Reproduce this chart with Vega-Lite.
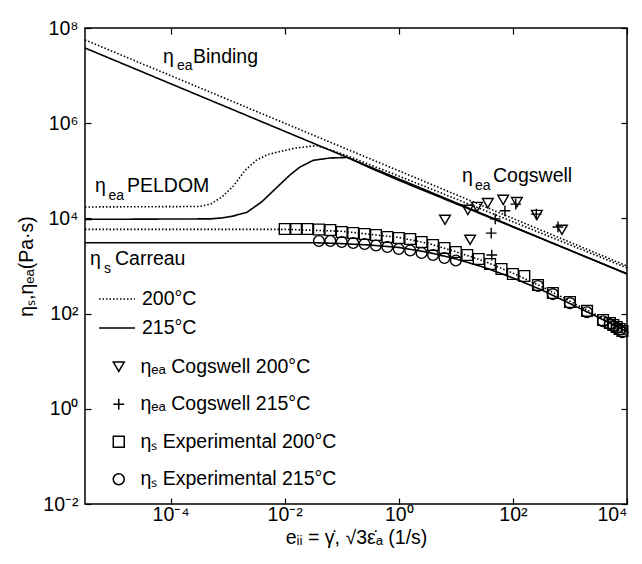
{
  "$schema": "https://vega.github.io/schema/vega-lite/v6.json",
  "width": 542,
  "height": 476,
  "autosize": "none",
  "padding": {"left": 85, "top": 28, "right": 15, "bottom": 60},
  "background": "white",
  "config": {
    "font": "Liberation Sans",
    "view": {"stroke": "black", "strokeWidth": 1.5},
    "axis": {
      "grid": false,
      "domain": false,
      "tickColor": "black",
      "tickWidth": 1.2,
      "tickSize": -6,
      "labelColor": "black",
      "labelFont": "Liberation Sans",
      "labelFontSize": 19.5,
      "titleColor": "black",
      "titleFont": "Liberation Sans",
      "titleFontSize": 19.5,
      "titleFontWeight": "normal",
      "labelExpr": "'10' + (round(log(datum.value)/LN10) < 0 ? '⁻' : '') + substring('⁰¹²³⁴⁵⁶⁷⁸⁹', abs(round(log(datum.value)/LN10)), abs(round(log(datum.value)/LN10)) + 1)"
    },
    "legend": {
      "labelFont": "Liberation Sans",
      "labelFontSize": 19.5,
      "labelColor": "black",
      "labelLimit": 400,
      "padding": 0
    }
  },
  "datasets": {
    "curves": [
      {"x": 0.0000031623, "y": 56234000, "curve": "Binding 200", "temp": "200°C"},
      {"x": 0.031623, "y": 562341, "curve": "Binding 200", "temp": "200°C"},
      {"x": 10000, "y": 1000, "curve": "Binding 200", "temp": "200°C"},
      {"x": 0.0000031623, "y": 38019000, "curve": "Binding 215", "temp": "215°C"},
      {"x": 0.031623, "y": 380189, "curve": "Binding 215", "temp": "215°C"},
      {"x": 10000, "y": 676.08, "curve": "Binding 215", "temp": "215°C"},
      {"x": 0.0000031623, "y": 17378, "curve": "PELDOM 200", "temp": "200°C"},
      {"x": 0.00031623, "y": 17783, "curve": "PELDOM 200", "temp": "200°C"},
      {"x": 0.00050119, "y": 19953, "curve": "PELDOM 200", "temp": "200°C"},
      {"x": 0.00079433, "y": 28184, "curve": "PELDOM 200", "temp": "200°C"},
      {"x": 0.0012589, "y": 47863, "curve": "PELDOM 200", "temp": "200°C"},
      {"x": 0.0019953, "y": 100000, "curve": "PELDOM 200", "temp": "200°C"},
      {"x": 0.0031623, "y": 165959, "curve": "PELDOM 200", "temp": "200°C"},
      {"x": 0.0050119, "y": 218776, "curve": "PELDOM 200", "temp": "200°C"},
      {"x": 0.0079433, "y": 251189, "curve": "PELDOM 200", "temp": "200°C"},
      {"x": 0.015849, "y": 301995, "curve": "PELDOM 200", "temp": "200°C"},
      {"x": 0.036308, "y": 338844, "curve": "PELDOM 200", "temp": "200°C"},
      {"x": 0.1, "y": 229087, "curve": "PELDOM 200", "temp": "200°C"},
      {"x": 1, "y": 77625, "curve": "PELDOM 200", "temp": "200°C"},
      {"x": 100, "y": 8511.4, "curve": "PELDOM 200", "temp": "200°C"},
      {"x": 10000, "y": 912.01, "curve": "PELDOM 200", "temp": "200°C"},
      {"x": 0.0000031623, "y": 9549.9, "curve": "PELDOM 215", "temp": "215°C"},
      {"x": 0.00050119, "y": 9772.4, "curve": "PELDOM 215", "temp": "215°C"},
      {"x": 0.00079433, "y": 10233, "curve": "PELDOM 215", "temp": "215°C"},
      {"x": 0.0012589, "y": 11220, "curve": "PELDOM 215", "temp": "215°C"},
      {"x": 0.0021878, "y": 13490, "curve": "PELDOM 215", "temp": "215°C"},
      {"x": 0.0039811, "y": 22387, "curve": "PELDOM 215", "temp": "215°C"},
      {"x": 0.0074131, "y": 45709, "curve": "PELDOM 215", "temp": "215°C"},
      {"x": 0.012589, "y": 83176, "curve": "PELDOM 215", "temp": "215°C"},
      {"x": 0.018621, "y": 120226, "curve": "PELDOM 215", "temp": "215°C"},
      {"x": 0.031623, "y": 165959, "curve": "PELDOM 215", "temp": "215°C"},
      {"x": 0.063096, "y": 186209, "curve": "PELDOM 215", "temp": "215°C"},
      {"x": 0.12589, "y": 190546, "curve": "PELDOM 215", "temp": "215°C"},
      {"x": 0.31623, "y": 114815, "curve": "PELDOM 215", "temp": "215°C"},
      {"x": 1, "y": 63096, "curve": "PELDOM 215", "temp": "215°C"},
      {"x": 10, "y": 20417, "curve": "PELDOM 215", "temp": "215°C"},
      {"x": 100, "y": 6606.9, "curve": "PELDOM 215", "temp": "215°C"},
      {"x": 1000, "y": 2138, "curve": "PELDOM 215", "temp": "215°C"},
      {"x": 10000, "y": 691.83, "curve": "PELDOM 215", "temp": "215°C"},
      {"x": 0.0000031623, "y": 5888.4, "curve": "Carreau 200", "temp": "200°C"},
      {"x": 0.01, "y": 5888.4, "curve": "Carreau 200", "temp": "200°C"},
      {"x": 0.1, "y": 5370.3, "curve": "Carreau 200", "temp": "200°C"},
      {"x": 1, "y": 3981.1, "curve": "Carreau 200", "temp": "200°C"},
      {"x": 3.1623, "y": 3020, "curve": "Carreau 200", "temp": "200°C"},
      {"x": 10, "y": 1995.3, "curve": "Carreau 200", "temp": "200°C"},
      {"x": 31.623, "y": 1258.9, "curve": "Carreau 200", "temp": "200°C"},
      {"x": 100, "y": 707.95, "curve": "Carreau 200", "temp": "200°C"},
      {"x": 316.23, "y": 371.54, "curve": "Carreau 200", "temp": "200°C"},
      {"x": 1000, "y": 181.97, "curve": "Carreau 200", "temp": "200°C"},
      {"x": 3162.3, "y": 89.125, "curve": "Carreau 200", "temp": "200°C"},
      {"x": 10000, "y": 47.863, "curve": "Carreau 200", "temp": "200°C"},
      {"x": 0.0000031623, "y": 3090.3, "curve": "Carreau 215", "temp": "215°C"},
      {"x": 0.031623, "y": 3090.3, "curve": "Carreau 215", "temp": "215°C"},
      {"x": 0.1, "y": 2951.2, "curve": "Carreau 215", "temp": "215°C"},
      {"x": 0.31623, "y": 2754.2, "curve": "Carreau 215", "temp": "215°C"},
      {"x": 1, "y": 2454.7, "curve": "Carreau 215", "temp": "215°C"},
      {"x": 3.1623, "y": 1949.8, "curve": "Carreau 215", "temp": "215°C"},
      {"x": 10, "y": 1412.5, "curve": "Carreau 215", "temp": "215°C"},
      {"x": 31.623, "y": 933.25, "curve": "Carreau 215", "temp": "215°C"},
      {"x": 100, "y": 562.34, "curve": "Carreau 215", "temp": "215°C"},
      {"x": 316.23, "y": 316.23, "curve": "Carreau 215", "temp": "215°C"},
      {"x": 1000, "y": 162.18, "curve": "Carreau 215", "temp": "215°C"},
      {"x": 3162.3, "y": 83.176, "curve": "Carreau 215", "temp": "215°C"},
      {"x": 10000, "y": 41.687, "curve": "Carreau 215", "temp": "215°C"}
    ],
    "points": [
      {"x": 0.01, "y": 5984, "series": "ηₛ Experimental 200°C"},
      {"x": 0.015849, "y": 5984, "series": "ηₛ Experimental 200°C"},
      {"x": 0.025119, "y": 5984, "series": "ηₛ Experimental 200°C"},
      {"x": 0.039811, "y": 5848, "series": "ηₛ Experimental 200°C"},
      {"x": 0.063096, "y": 5702, "series": "ηₛ Experimental 200°C"},
      {"x": 0.1, "y": 5176, "series": "ηₛ Experimental 200°C"},
      {"x": 0.15849, "y": 4932, "series": "ηₛ Experimental 200°C"},
      {"x": 0.25119, "y": 4699, "series": "ηₛ Experimental 200°C"},
      {"x": 0.39811, "y": 4477, "series": "ηₛ Experimental 200°C"},
      {"x": 0.63096, "y": 4064, "series": "ηₛ Experimental 200°C"},
      {"x": 1, "y": 3873, "series": "ηₛ Experimental 200°C"},
      {"x": 1.5849, "y": 3690, "series": "ηₛ Experimental 200°C"},
      {"x": 2.5119, "y": 3192, "series": "ηₛ Experimental 200°C"},
      {"x": 3.9811, "y": 2761, "series": "ηₛ Experimental 200°C"},
      {"x": 6.3096, "y": 2388, "series": "ηₛ Experimental 200°C"},
      {"x": 10, "y": 1968, "series": "ηₛ Experimental 200°C"},
      {"x": 15.849, "y": 1702, "series": "ηₛ Experimental 200°C"},
      {"x": 25.119, "y": 1403, "series": "ηₛ Experimental 200°C"},
      {"x": 39.811, "y": 1102, "series": "ηₛ Experimental 200°C"},
      {"x": 63.096, "y": 865, "series": "ηₛ Experimental 200°C"},
      {"x": 100, "y": 679, "series": "ηₛ Experimental 200°C"},
      {"x": 158.49, "y": 617, "series": "ηₛ Experimental 200°C"},
      {"x": 275.42, "y": 399, "series": "ηₛ Experimental 200°C"},
      {"x": 501.19, "y": 271, "series": "ηₛ Experimental 200°C"},
      {"x": 1000, "y": 175, "series": "ηₛ Experimental 200°C"},
      {"x": 1995.3, "y": 114, "series": "ηₛ Experimental 200°C"},
      {"x": 3801.9, "y": 73.5, "series": "ηₛ Experimental 200°C"},
      {"x": 5011.9, "y": 63.5, "series": "ηₛ Experimental 200°C"},
      {"x": 5754.4, "y": 57.7, "series": "ηₛ Experimental 200°C"},
      {"x": 6606.9, "y": 52.4, "series": "ηₛ Experimental 200°C"},
      {"x": 7413.1, "y": 47.5, "series": "ηₛ Experimental 200°C"},
      {"x": 8317.6, "y": 43.1, "series": "ηₛ Experimental 200°C"},
      {"x": 0.039811, "y": 3350, "series": "ηₛ Experimental 215°C"},
      {"x": 0.063096, "y": 3350, "series": "ηₛ Experimental 215°C"},
      {"x": 0.1, "y": 3192, "series": "ηₛ Experimental 215°C"},
      {"x": 0.15849, "y": 3041, "series": "ηₛ Experimental 215°C"},
      {"x": 0.25119, "y": 2897, "series": "ηₛ Experimental 215°C"},
      {"x": 0.39811, "y": 2698, "series": "ηₛ Experimental 215°C"},
      {"x": 0.63096, "y": 2506, "series": "ηₛ Experimental 215°C"},
      {"x": 1, "y": 2275, "series": "ηₛ Experimental 215°C"},
      {"x": 1.5849, "y": 2118, "series": "ηₛ Experimental 215°C"},
      {"x": 2.5119, "y": 1875, "series": "ηₛ Experimental 215°C"},
      {"x": 3.9811, "y": 1702, "series": "ηₛ Experimental 215°C"},
      {"x": 6.3096, "y": 1472, "series": "ηₛ Experimental 215°C"},
      {"x": 10, "y": 1306, "series": "ηₛ Experimental 215°C"},
      {"x": 275.42, "y": 380, "series": "ηₛ Experimental 215°C"},
      {"x": 501.19, "y": 257, "series": "ηₛ Experimental 215°C"},
      {"x": 1000, "y": 166, "series": "ηₛ Experimental 215°C"},
      {"x": 1995.3, "y": 107, "series": "ηₛ Experimental 215°C"},
      {"x": 3801.9, "y": 69.2, "series": "ηₛ Experimental 215°C"},
      {"x": 5011.9, "y": 60.3, "series": "ηₛ Experimental 215°C"},
      {"x": 5754.4, "y": 55, "series": "ηₛ Experimental 215°C"},
      {"x": 6606.9, "y": 50.1, "series": "ηₛ Experimental 215°C"},
      {"x": 7413.1, "y": 45.7, "series": "ηₛ Experimental 215°C"},
      {"x": 8317.6, "y": 40.7, "series": "ηₛ Experimental 215°C"},
      {"x": 6.457, "y": 9333, "series": "ηₑₐ Cogswell 200°C"},
      {"x": 16.22, "y": 15136, "series": "ηₑₐ Cogswell 200°C"},
      {"x": 23.44, "y": 17378, "series": "ηₑₐ Cogswell 200°C"},
      {"x": 36.31, "y": 20893, "series": "ηₑₐ Cogswell 200°C"},
      {"x": 67.61, "y": 24547, "series": "ηₑₐ Cogswell 200°C"},
      {"x": 117.5, "y": 21878, "series": "ηₑₐ Cogswell 200°C"},
      {"x": 263.0, "y": 11749, "series": "ηₑₐ Cogswell 200°C"},
      {"x": 724.4, "y": 5754, "series": "ηₑₐ Cogswell 200°C"},
      {"x": 17.78, "y": 3548, "series": "ηₑₐ Cogswell 200°C"},
      {"x": 72.44, "y": 14454, "series": "ηₑₐ Cogswell 215°C"},
      {"x": 48.98, "y": 9772, "series": "ηₑₐ Cogswell 215°C"},
      {"x": 41.69, "y": 4898, "series": "ηₑₐ Cogswell 215°C"},
      {"x": 42.66, "y": 1698, "series": "ηₑₐ Cogswell 215°C"},
      {"x": 257.0, "y": 12303, "series": "ηₑₐ Cogswell 215°C"},
      {"x": 616.6, "y": 6607, "series": "ηₑₐ Cogswell 215°C"},
      {"x": 112.2, "y": 19953, "series": "ηₑₐ Cogswell 215°C"}
    ],
    "labels": [
      {"x": 0.00007362, "y": 18410000, "text": "η", "part": "main"},
      {"x": 0.0001297, "y": 13120000, "text": "ea", "part": "sub"},
      {"x": 0.0002472, "y": 18410000, "text": "Binding", "part": "main"},
      {"x": 0.000004732, "y": 35892, "text": "η", "part": "main"},
      {"x": 0.000008166, "y": 24378, "text": "ea", "part": "sub"},
      {"x": 0.00001722, "y": 35892, "text": "PELDOM", "part": "main"},
      {"x": 0.000003873, "y": 1049.5, "text": "η", "part": "main"},
      {"x": 0.000006808, "y": 712.9, "text": "s", "part": "sub"},
      {"x": 0.00001062, "y": 1049.5, "text": "Carreau", "part": "main"},
      {"x": 12.82, "y": 58210, "text": "η", "part": "main"},
      {"x": 21.68, "y": 39537, "text": "ea", "part": "sub"},
      {"x": 44.87, "y": 58210, "text": "Cogswell", "part": "main"}
    ]
  },
  "resolve": {"axis": {"x": "independent", "y": "independent"}},
  "layer": [
    {
      "data": {"name": "curves"},
      "mark": {"type": "line", "color": "black", "strokeWidth": 1.6, "clip": true},
      "encoding": {
        "x": {
          "field": "x", "type": "quantitative",
          "scale": {"type": "log", "domain": [0.0000031623, 10000], "nice": false},
          "axis": {"orient": "bottom", "values": [0.0001, 0.01, 1, 100, 10000], "labelPadding": 7, "titlePadding": 5,
                   "title": "eᵢᵢ = γ̇, √3ε̇ₐ (1/s)"}
        },
        "y": {
          "field": "y", "type": "quantitative",
          "scale": {"type": "log", "domain": [0.01, 100000000], "nice": false},
          "axis": {"orient": "left", "values": [0.01, 1, 100, 10000, 1000000, 100000000], "labelPadding": 13, "titlePadding": 6,
                   "title": "ηₛ,ηₑₐ(Pa·s)"}
        },
        "detail": {"field": "curve"},
        "strokeDash": {
          "field": "temp", "type": "nominal",
          "scale": {"domain": ["200°C", "215°C"], "range": [[1.5, 2], [1, 0]]},
          "legend": {"orient": "none", "legendX": 13, "legendY": 252, "title": null,
                     "symbolType": "stroke", "symbolSize": 1296, "symbolStrokeWidth": 1.6,
                     "symbolStrokeColor": "black", "labelOffset": 6, "rowPadding": -1}
        }
      }
    },
    {
      "data": {"name": "points"},
      "mark": {"type": "point", "filled": false, "color": "black", "strokeWidth": 1.4, "size": 115, "opacity": 1},
      "encoding": {
        "x": {"field": "x", "type": "quantitative", "scale": {"type": "log"}, "axis": null},
        "y": {"field": "y", "type": "quantitative", "scale": {"type": "log"}, "axis": null},
        "shape": {
          "field": "series", "type": "nominal",
          "scale": {"domain": ["ηₑₐ Cogswell 200°C", "ηₑₐ Cogswell 215°C", "ηₛ Experimental 200°C", "ηₛ Experimental 215°C"],
                    "range": ["triangle-down", "M-1,0H1M0,-1V1", "square", "circle"]},
          "legend": {"orient": "none", "legendX": 24, "legendY": 329, "title": null,
                     "symbolSize": 120, "symbolStrokeWidth": 1.5, "symbolStrokeColor": "black",
                     "labelOffset": 12, "rowPadding": 16.5}
        }
      }
    },
    {
      "data": {"name": "labels"},
      "transform": [{"filter": "datum.part === 'main'"}],
      "mark": {"type": "text", "align": "left", "baseline": "alphabetic", "fontSize": 19.5, "font": "Liberation Sans", "color": "black"},
      "encoding": {
        "x": {"field": "x", "type": "quantitative", "scale": {"type": "log"},
              "axis": {"orient": "top", "values": [0.0001, 0.01, 1, 100, 10000], "labels": false, "title": null}},
        "y": {"field": "y", "type": "quantitative", "scale": {"type": "log"},
              "axis": {"orient": "right", "values": [0.01, 1, 100, 10000, 1000000, 100000000], "labels": false, "title": null}},
        "text": {"field": "text"}
      }
    },
    {
      "data": {"name": "labels"},
      "transform": [{"filter": "datum.part === 'sub'"}],
      "mark": {"type": "text", "align": "left", "baseline": "alphabetic", "fontSize": 14, "font": "Liberation Sans", "color": "black"},
      "encoding": {
        "x": {"field": "x", "type": "quantitative", "scale": {"type": "log"}, "axis": null},
        "y": {"field": "y", "type": "quantitative", "scale": {"type": "log"}, "axis": null},
        "text": {"field": "text"}
      }
    }
  ]
}
